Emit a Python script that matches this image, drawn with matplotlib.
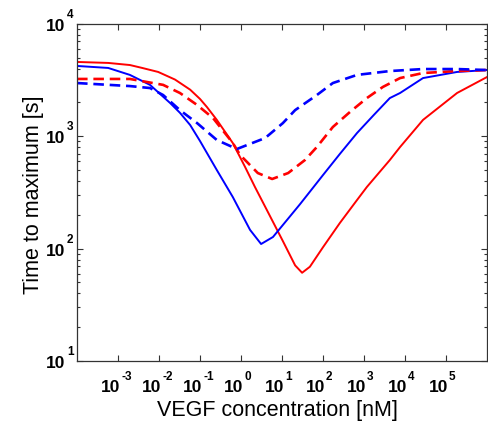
import numpy as np
import matplotlib
matplotlib.use("Agg")
import matplotlib.pyplot as plt
import matplotlib.transforms as mtransforms
from matplotlib.ticker import FixedLocator, NullLocator, LogLocator, NullFormatter

plt.rcParams.update({
    "font.family": ["Liberation Sans", "DejaVu Sans"],
})
TICK_FONT = ["Liberation Sans Narrow", "Liberation Sans", "DejaVu Sans"]

# ---------------------------------------------------------------------------
# Data (x: log10 of VEGF concentration in nM, y: s)
# ---------------------------------------------------------------------------
red_solid_logx = [-4.0, -3.24, -2.71, -2.41, -2.02, -1.61, -1.24, -1.00, -0.83,
                  -0.59, -0.20, 0.10, 0.34, 0.63, 1.02, 1.32, 1.49, 1.68, 2.00,
                  2.41, 2.83, 3.07, 3.63, 3.88, 4.44, 5.27, 6.0]
red_solid_t = [4590, 4500, 4310, 4060, 3740, 3200, 2600, 2150, 1820,
               1400, 871, 533, 354, 221, 117, 71, 61, 69, 103,
               169, 271, 354, 615, 803, 1400, 2430, 3370]

blue_solid_logx = [-4.0, -3.24, -2.71, -2.22, -1.73, -1.49, -1.24, -1.00, -0.59,
                   -0.20, 0.22, 0.49, 0.78, 1.44, 1.76, 2.00, 2.41, 2.83, 3.24,
                   3.63, 3.88, 4.44, 5.27, 6.0]
blue_solid_t = [4230, 4060, 3520, 2870, 1980, 1620, 1260, 908, 501,
                288, 147, 110, 127, 249, 350, 452, 696, 1070, 1550,
                2190, 2430, 3300, 3740, 3890]

red_dash_logx = [-4.0, -2.71, -1.90, -1.49, -1.07, -0.68, -0.20, -0.02, 0.41,
                 0.76, 1.15, 1.56, 1.85, 2.24, 2.66, 3.07, 3.46, 3.88, 4.44,
                 5.27, 6.0]
red_dash_t = [3240, 3240, 2870, 2430, 1900, 1450, 871, 681, 471,
              417, 471, 615, 803, 1210, 1650, 2190, 2750, 3300, 3660,
              3810, 3890]

blue_dash_logx = [-4.0, -2.71, -2.22, -1.90, -1.49, -1.07, -0.59, -0.10, 0.59,
                  1.02, 1.32, 1.85, 2.24, 2.83, 3.63, 4.44, 5.27, 6.0]
blue_dash_t = [2980, 2800, 2690, 2330, 1710, 1310, 927, 771, 966,
               1310, 1710, 2330, 2980, 3520, 3810, 3970, 3970, 3890]

x_tick_exp = [-3, -2, -1, 0, 1, 2, 3, 4, 5]
y_tick_exp = [1, 2, 3, 4]

# ---------------------------------------------------------------------------
fig = plt.figure(figsize=(4.89, 4.25), dpi=100)
ax = fig.add_axes([0.1575, 0.1506, 0.8384, 0.793])

lw_solid, lw_dash = 1.4, 1.9
dash = (0, (4.0, 2.2))
ax.plot(10.0 ** np.array(red_solid_logx), red_solid_t, color="#ff0000", lw=lw_solid)
ax.plot(10.0 ** np.array(blue_solid_logx), blue_solid_t, color="#0000ff", lw=lw_solid)
ax.plot(10.0 ** np.array(red_dash_logx), red_dash_t, color="#ff0000", lw=lw_dash, ls=dash)
ax.plot(10.0 ** np.array(blue_dash_logx), blue_dash_t, color="#0000ff", lw=lw_dash, ls=dash)

ax.set_xscale("log")
ax.set_yscale("log")
ax.set_xlim(1e-4, 1e6)
ax.set_ylim(10, 1e4)

ax.xaxis.set_major_locator(FixedLocator([10.0 ** e for e in x_tick_exp]))
ax.xaxis.set_minor_locator(NullLocator())
ax.yaxis.set_major_locator(FixedLocator([10.0 ** e for e in y_tick_exp]))
ax.yaxis.set_minor_locator(LogLocator(base=10, subs=np.arange(2, 10)))
ax.xaxis.set_major_formatter(NullFormatter())
ax.yaxis.set_major_formatter(NullFormatter())
ax.yaxis.set_minor_formatter(NullFormatter())

ax.tick_params(which="both", direction="in", top=True, right=True,
               width=0.8, color="#333333")
ax.tick_params(which="major", length=4)
ax.tick_params(which="minor", length=2.5)
for sp in ax.spines.values():
    sp.set_color("#333333")
    sp.set_linewidth(0.9)

# MATLAB-style tick labels: bold "10" with a raised, plain-hyphen exponent
bx = mtransforms.blended_transform_factory(ax.transData, ax.transAxes)
by = mtransforms.blended_transform_factory(ax.transAxes, ax.transData)
for e in x_tick_exp:
    xv = 10.0 ** e
    ax.text(xv, 0, "10", transform=mtransforms.offset_copy(bx, fig=fig, x=2, y=-31, units="dots"),
            ha="right", va="baseline", fontsize=12.5, fontweight="bold", family=TICK_FONT)
    ax.text(xv, 0, str(e), transform=mtransforms.offset_copy(bx, fig=fig, x=3, y=-19, units="dots"),
            ha="left", va="baseline", fontsize=8.5, fontweight="bold", family=TICK_FONT)
for e in y_tick_exp:
    yv = 10.0 ** e
    ax.text(0, yv, "10", transform=mtransforms.offset_copy(by, fig=fig, x=-12, y=-7, units="dots"),
            ha="right", va="baseline", fontsize=12.5, fontweight="bold", family=TICK_FONT)
    ax.text(0, yv, str(e), transform=mtransforms.offset_copy(by, fig=fig, x=-10, y=6, units="dots"),
            ha="left", va="baseline", fontsize=8.5, fontweight="bold", family=TICK_FONT)

ax.set_xlabel("VEGF concentration [nM]", fontsize=15.5, va="center")
ax.xaxis.set_label_coords(0.49, -0.148)
ax.set_ylabel("Time to maximum [s]", fontsize=15.5, va="center")
ax.yaxis.set_label_coords(-0.105, 0.493)

fig.savefig("out.png", dpi=100)
